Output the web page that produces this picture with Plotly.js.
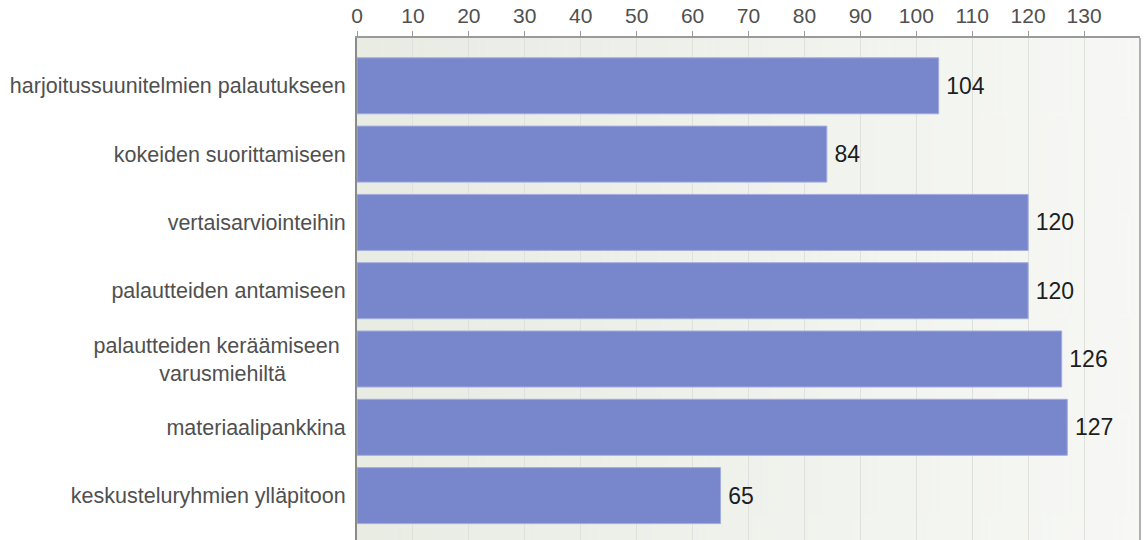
<!DOCTYPE html>
<html><head><meta charset="utf-8">
<script src="https://cdn.plot.ly/plotly-3.0.1.min.js"></script>
<style>html,body{margin:0;padding:0;background:#fff;}#chart{width:1146px;height:540px;}</style>
</head><body><div id="chart"></div>
<script>
const categories = [
  "harjoitussuunitelmien palautukseen",
  "kokeiden suorittamiseen",
  "vertaisarviointeihin",
  "palautteiden antamiseen",
  "palautteiden keräämiseen\u00a0<br>varusmiehiltä\u00a0\u00a0\u00a0\u00a0\u00a0\u00a0\u00a0\u00a0\u00a0\u00a0",
  "materiaalipankkina",
  "keskusteluryhmien ylläpitoon"
];
const values = [104, 84, 120, 120, 126, 127, 65];
const tickValues = [0,10,20,30,40,50,60,70,80,90,100,110,120,130];

// background gradient image
const cv = document.createElement('canvas');
cv.width = 400; cv.height = 10;
const cx = cv.getContext('2d');
const g = cx.createLinearGradient(0,0,400,0);
g.addColorStop(0,'#e8ece3');
g.addColorStop(1,'#f7f8f5');
cx.fillStyle = g; cx.fillRect(0,0,400,10);
const bgUrl = cv.toDataURL();

const trace = {
  type: 'bar',
  orientation: 'h',
  y: categories,
  x: values,
  texttemplate: '\u2009%{x}',
  textposition: 'outside',
  cliponaxis: false,
  textfont: {family: 'Liberation Sans, Arial, sans-serif', size: 23, color: '#1e1e1e'},
  marker: {color: '#7886cc', line: {color: '#a3acdf', width: 1}},
  width: 0.82,
  hoverinfo: 'none'
};

const layout = {
  width: 1146, height: 540,
  margin: {l: 357, r: 6, t: 38, b: 0, pad: 0},
  paper_bgcolor: '#ffffff',
  plot_bgcolor: 'rgba(0,0,0,0)',
  showlegend: false,
  font: {family: 'Liberation Sans, Arial, sans-serif'},
  xaxis: {
    side: 'top', range: [0, 140], tickmode: 'array', tickvals: tickValues,
    ticks: 'outside', ticklen: 5, tickcolor: '#999', tickwidth: 1,
    showline: true, linecolor: '#9a9a9a', linewidth: 2,
    showgrid: true, gridcolor: '#dfe1dd', gridwidth: 1,
    zeroline: false, ticklabelstandoff: 0,
    tickfont: {size: 21, color: '#505050'}
  },
  yaxis: {
    type: 'category', autorange: false, range: [6.65, -0.7],
    showline: true, linecolor: '#8a8a8a', linewidth: 2,
    ticks: '', showgrid: false, zeroline: false,
    ticklabelstandoff: 5,
    tickfont: {size: 21.5, color: '#505050'}
  },
  bargap: 0.18,
  images: [{source: bgUrl, xref: 'paper', yref: 'paper', x: 0, y: 1, sizex: 1, sizey: 1,
            sizing: 'stretch', layer: 'below', xanchor: 'left', yanchor: 'top'}],
  shapes: [{type: 'line', xref: 'paper', yref: 'paper', x0: 1, x1: 1, y0: 0, y1: 1,
            line: {color: '#b0b0b0', width: 2}}]
};

Plotly.newPlot('chart', [trace], layout, {displayModeBar: false, staticPlot: true});
</script>
</body></html>
